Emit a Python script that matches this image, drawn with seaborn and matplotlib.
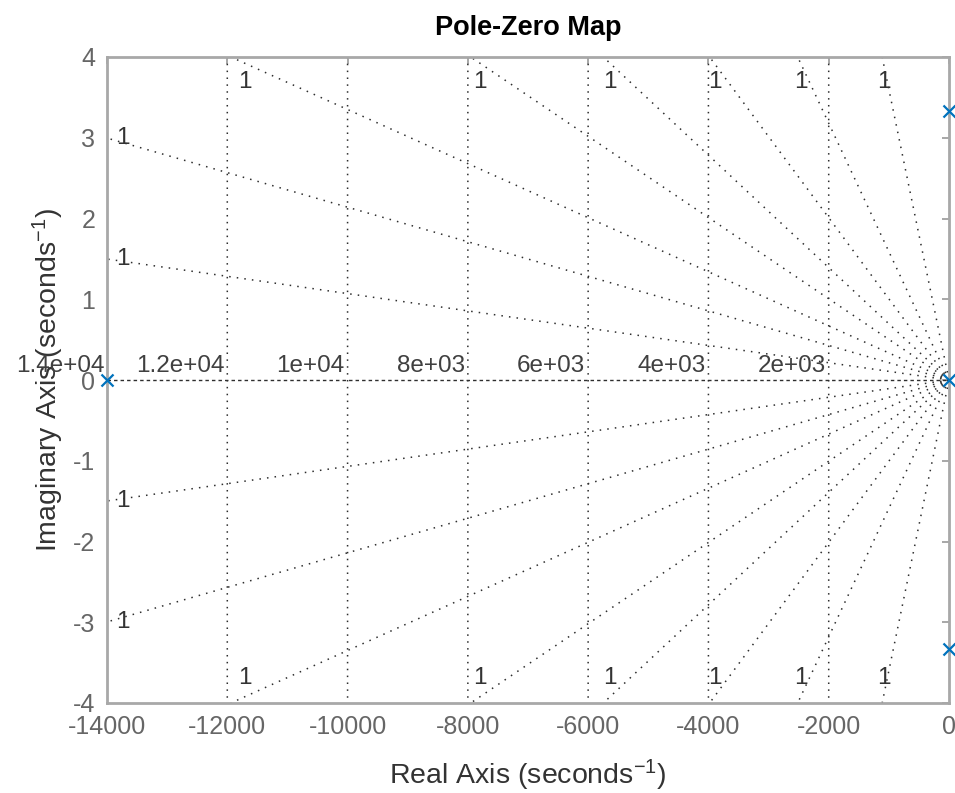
"""
Pole-zero map with damping / natural-frequency grid (MATLAB pzmap look)
"""

import numpy as np
import pandas as pd
import seaborn as sns
import matplotlib.pyplot as plt

# =========================
# data
# =========================
POLE_RE = [-14000, 0, 0, 0]
POLE_IM = [0, 3.33, -3.33, 0]

# constant-damping rays, given as slope wd / sigma
DAMP_SLOPES = [1.07e-4, 2.14e-4, 3.35e-4, 5.03e-4, 6.96e-4, 1.005e-3, 1.59e-3, 3.6e-3]
# natural frequency circles (seconds^-1)
WN_GRID = [2000, 4000, 6000, 8000, 10000, 12000, 14000]

X_TICKS = [-14000, -12000, -10000, -8000, -6000, -4000, -2000, 0]
Y_TICKS = [-4, -3, -2, -1, 0, 1, 2, 3, 4]
XLIM = (-14000, 0)
YLIM = (-4, 4)

GRID_COL = "#2e2e2e"
POLE_COL = "#0072BD"

sns.set_style("white")
plt.rcParams["font.family"] = ["Liberation Sans", "DejaVu Sans"]
plt.rcParams["mathtext.fontset"] = "custom"
plt.rcParams["mathtext.rm"] = "Liberation Sans"
plt.rcParams["mathtext.it"] = "Liberation Sans:italic"

fig = plt.figure(figsize=(9.55, 7.93), dpi=100)
ax = fig.add_axes([107 / 955, 1 - 703 / 793, 842 / 955, 646 / 793])

# =========================
# grid: damping rays
# =========================
rows = []
ends = []
for i, s in enumerate(DAMP_SLOPES):
    t = min(-XLIM[0], YLIM[1] / s)
    for sign in (1, -1):
        rows.append((f"d{i}{sign}", 0.0, 0.0))
        rows.append((f"d{i}{sign}", -t, sign * s * t))
        ends.append((s, -t, sign * s * t))
damp_df = pd.DataFrame(rows, columns=["line", "x", "y"])

sns.lineplot(data=damp_df, x="x", y="y", units="line", estimator=None, sort=False,
             color=GRID_COL, linewidth=1.1, linestyle=(0, (1, 4)), ax=ax, zorder=1)

# zeta = 1 ray along the real axis
real_df = pd.DataFrame({"x": [XLIM[0], 0.0], "y": [0.0, 0.0]})
sns.lineplot(data=real_df, x="x", y="y", estimator=None, sort=False,
             color=GRID_COL, linewidth=1.0, linestyle=(0, (2.5, 2.2)), ax=ax, zorder=1)

# =========================
# grid: natural frequency circles
# =========================
theta = np.linspace(-np.pi / 2, np.pi / 2, 721)
wn_rows = []
for wn in WN_GRID[:-1]:
    for th in theta:
        wn_rows.append((wn, -wn * np.cos(th), wn * np.sin(th)))
wn_df = pd.DataFrame(wn_rows, columns=["wn", "x", "y"])
sns.lineplot(data=wn_df, x="x", y="y", units="wn", estimator=None, sort=False,
             color=GRID_COL, linewidth=1.1, linestyle=(0, (1, 3.5)), ax=ax, zorder=1)

# =========================
# grid labels
# =========================
for wn in WN_GRID:
    ax.annotate(f"{wn:.2g}", xy=(-wn, 0), xytext=(-2, 6), textcoords="offset points",
                ha="right", va="baseline", fontsize=17.5, color="#404040", zorder=3)

for s, ex, ey in ends:
    zeta = 1 / np.sqrt(1 + s ** 2)
    if ex > XLIM[0] + 1:
        dy = -18 if ey > 0 else 18
        ax.annotate(f"{zeta:.2g}", xy=(0.98 * ex, ey), xytext=(0, dy),
                    textcoords="offset points", ha="center", va="center",
                    fontsize=17.5, color="#333333", zorder=3)
    else:
        ax.annotate(f"{zeta:.2g}", xy=(0.981 * ex, ey), ha="center", va="center",
                    fontsize=17.5, color="#333333", zorder=3)

# =========================
# poles
# =========================
sns.scatterplot(x=POLE_RE, y=POLE_IM, marker="x", s=75, color=POLE_COL,
                linewidth=1.6, clip_on=False, zorder=5, ax=ax)

# =========================
# axes styling
# =========================
ax.set_xlim(*XLIM)
ax.set_ylim(*YLIM)
ax.set_xticks(X_TICKS)
ax.set_yticks(Y_TICKS)
ax.set_xticklabels([str(v) for v in X_TICKS])
ax.set_yticklabels([str(v) for v in Y_TICKS])
ax.tick_params(direction="in", length=5, width=1.3, color="#a0a0a0",
               top=True, right=True, labelcolor="#666666", labelsize=18, pad=8.5)
for sp in ax.spines.values():
    sp.set_visible(True)
    sp.set_color("#a8a8a8")
    sp.set_linewidth(2.0)
    sp.set_zorder(4)

ax.set_title("Pole-Zero Map", fontsize=19.5, fontweight="bold", color="black", pad=16)
ax.set_xlabel(r"Real Axis (seconds$^{-1}$)", fontsize=20.5, color="#333333")
ax.set_ylabel(r"Imaginary Axis (seconds$^{-1}$)", fontsize=20.5, color="#333333")
ax.xaxis.set_label_coords(0.5, -0.085)
ax.yaxis.set_label_coords(-0.049, 0.5)

fig.savefig("out.png", dpi=100)
